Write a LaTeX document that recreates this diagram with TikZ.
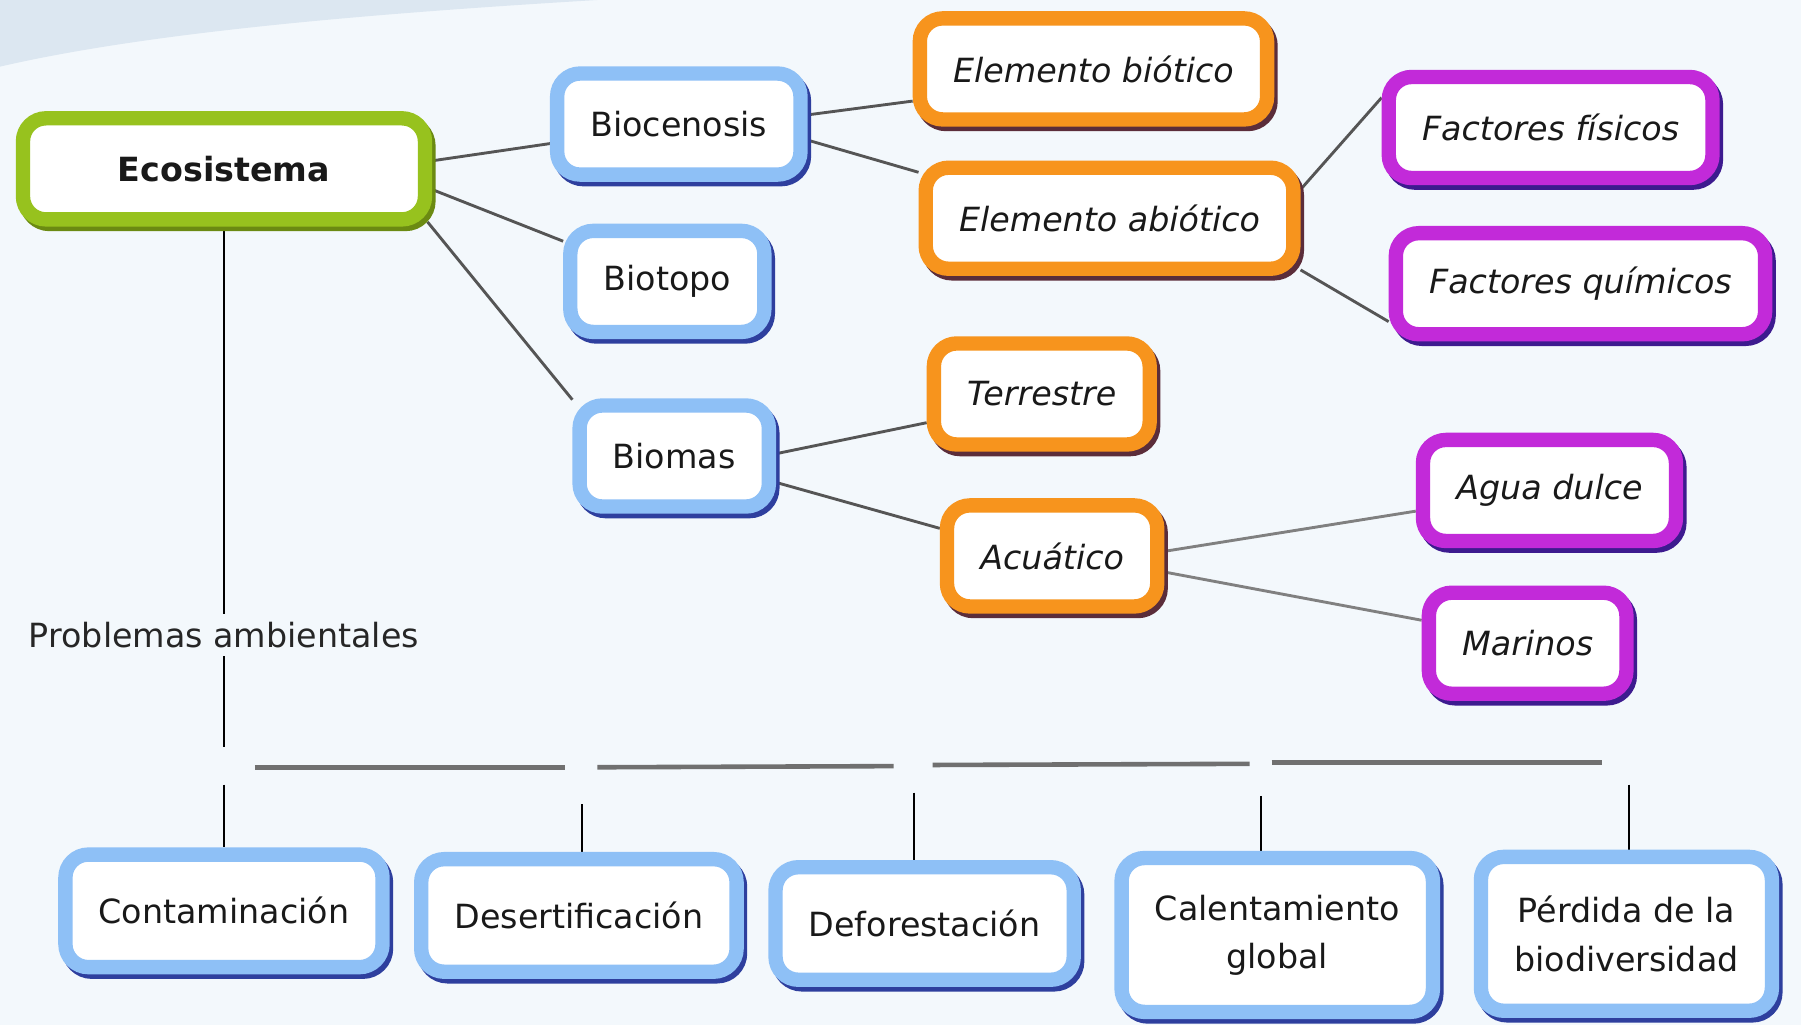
\documentclass[tikz,border=0pt]{standalone}
\usepackage{fontspec}
\setmainfont{DejaVu Sans}
\usetikzlibrary{backgrounds}

\definecolor{bgcol}{HTML}{F3F8FC}
\definecolor{swooshcol}{HTML}{DCE7F1}
\definecolor{bluecol}{HTML}{8EC0F6}
\definecolor{blueshd}{HTML}{2E3F9E}
\definecolor{orangecol}{HTML}{F7941D}
\definecolor{orangeshd}{HTML}{5B2D3A}
\definecolor{purplecol}{HTML}{C22AD9}
\definecolor{purpleshd}{HTML}{3D1B8F}
\definecolor{greencol}{HTML}{97C21E}
\definecolor{greenshd}{HTML}{6B8A12}
\definecolor{linecol}{HTML}{555555}
\definecolor{barcol}{HTML}{707070}

\tikzset{
  concept/.style={rounded corners=20pt, line width=12.5pt, fill=white,
    inner xsep=29pt, minimum height=88pt, text=black!90, align=center,
    font=\fontsize{29}{42}\selectfont},
  shd/.style={preaction={draw=#1, line width=12.5pt,
    transform canvas={shift={(3pt,-4pt)}}}},
  bluebox/.style={concept, draw=bluecol, shd=blueshd},
  orangebox/.style={concept, draw=orangecol, shd=orangeshd,
    font=\fontsize{29}{42}\selectfont\itshape},
  purplebox/.style={concept, draw=purplecol, shd=purpleshd,
    font=\fontsize{29}{42}\selectfont\itshape},
  mainbox/.style={concept, draw=greencol, shd=greenshd, minimum width=350pt,
    font=\fontsize{29}{42}\selectfont\bfseries},
  probbox/.style={bluebox, minimum height=98pt},
  link/.style={draw=linecol, line width=2.5pt},
  bar/.style={draw=barcol, line width=4pt},
  drop/.style={draw=black, line width=1.6pt}
}

\begin{document}
\begin{tikzpicture}[x=1pt, y=-1pt]
  \useasboundingbox (0,0) rectangle (1568,892);

  \node[mainbox] (eco) at (195,147) {Ecosistema};
  \node[bluebox] (bioc) at (591,108) {Biocenosis};
  \node[bluebox] (biot) at (581,245) {Biotopo};
  \node[bluebox] (biom) at (587,397) {Biomas};
  \node[orangebox] (ebio) at (952,60) {Elemento biótico};
  \node[orangebox] (eabio) at (966,190) {Elemento abiótico};
  \node[purplebox] (ffis) at (1350,111) {Factores físicos};
  \node[purplebox] (fqui) at (1376,247) {Factores químicos};
  \node[orangebox] (terr) at (907,343) {Terrestre};
  \node[orangebox] (acua) at (916,484) {Acuático};
  \node[purplebox] (agua) at (1349,427) {Agua dulce};
  \node[purplebox] (mar) at (1330,560) {Marinos};

  \node[font=\fontsize{29}{42}\selectfont, text=black!85, inner sep=7pt] (prob) at (195,553) {Problemas ambientales};

  \node[probbox] (cont) at (195,793) {Contaminación};
  \node[probbox] (dese) at (504,797) {Desertificación};
  \node[probbox] (defo) at (805,804) {Deforestación};
  \node[bluebox, minimum height=134pt] (cale) at (1112,814) {Calentamiento\\global};
  \node[bluebox, minimum height=134pt] (perd) at (1416,813) {Pérdida de la\\biodiversidad};

  \coordinate (probend) at (195,650);
  \coordinate (b1) at (222,668);  \coordinate (b2) at (492,668);
  \coordinate (b3) at (520,668);  \coordinate (b4) at (778,667);
  \coordinate (b5) at (812,666);  \coordinate (b6) at (1088,665);
  \coordinate (b7) at (1107,664); \coordinate (b8) at (1395,664);
  \coordinate (t1) at (195,683);
  \coordinate (t2) at (507,700);
  \coordinate (t3) at (796,690);
  \coordinate (t4) at (1098,693);
  \coordinate (t5) at (1418,683);

  \begin{scope}[on background layer]
    \fill[bgcol] (0,0) rectangle (1568,892);
    \fill[swooshcol] (0,0) -- (520,0) .. controls (320,12) and (130,28) .. (0,58) -- cycle;

    \draw[link] ([yshift=7pt]eco.east) -- ([yshift=-17pt]bioc.west);
    \draw[link] ([yshift=-18pt]eco.east) -- ([yshift=35pt]biot.west);
    \draw[link] ([xshift=-4pt,yshift=4pt]eco.south east) -- ([yshift=49pt]biom.west);
    \draw[link] ([yshift=8pt]bioc.east) -- ([yshift=-28pt]ebio.west);
    \draw[link] ([yshift=-14pt]bioc.east) -- ([yshift=40pt]eabio.west);
    \draw[link] ([yshift=25pt]eabio.east) -- ([yshift=26pt]ffis.west);
    \draw[link] ([yshift=-45pt]eabio.east) -- ([yshift=-33pt]fqui.west);
    \draw[link] ([yshift=2pt]biom.east) -- ([yshift=-25pt]terr.west);
    \draw[link] ([yshift=-23pt]biom.east) -- ([yshift=24pt]acua.west);
    \draw[link, draw=gray] ([yshift=4pt]acua.east) -- ([yshift=-18pt]agua.west);
    \draw[link, draw=gray] ([yshift=-14pt]acua.east) -- ([yshift=20pt]mar.west);

    \draw[drop] (eco) -- (prob);
    \draw[drop] (prob) -- (probend);
    \draw[bar] (b1) -- (b2);
    \draw[bar] (b3) -- (b4);
    \draw[bar] (b5) -- (b6);
    \draw[bar] (b7) -- (b8);
    \draw[drop] (t1) -- (t1 |- cont.north);
    \draw[drop] (t2) -- (t2 |- dese.north);
    \draw[drop] (t3) -- (t3 |- defo.north);
    \draw[drop] (t4) -- (t4 |- cale.north);
    \draw[drop] (t5) -- (t5 |- perd.north);
  \end{scope}
\end{tikzpicture}
\end{document}
